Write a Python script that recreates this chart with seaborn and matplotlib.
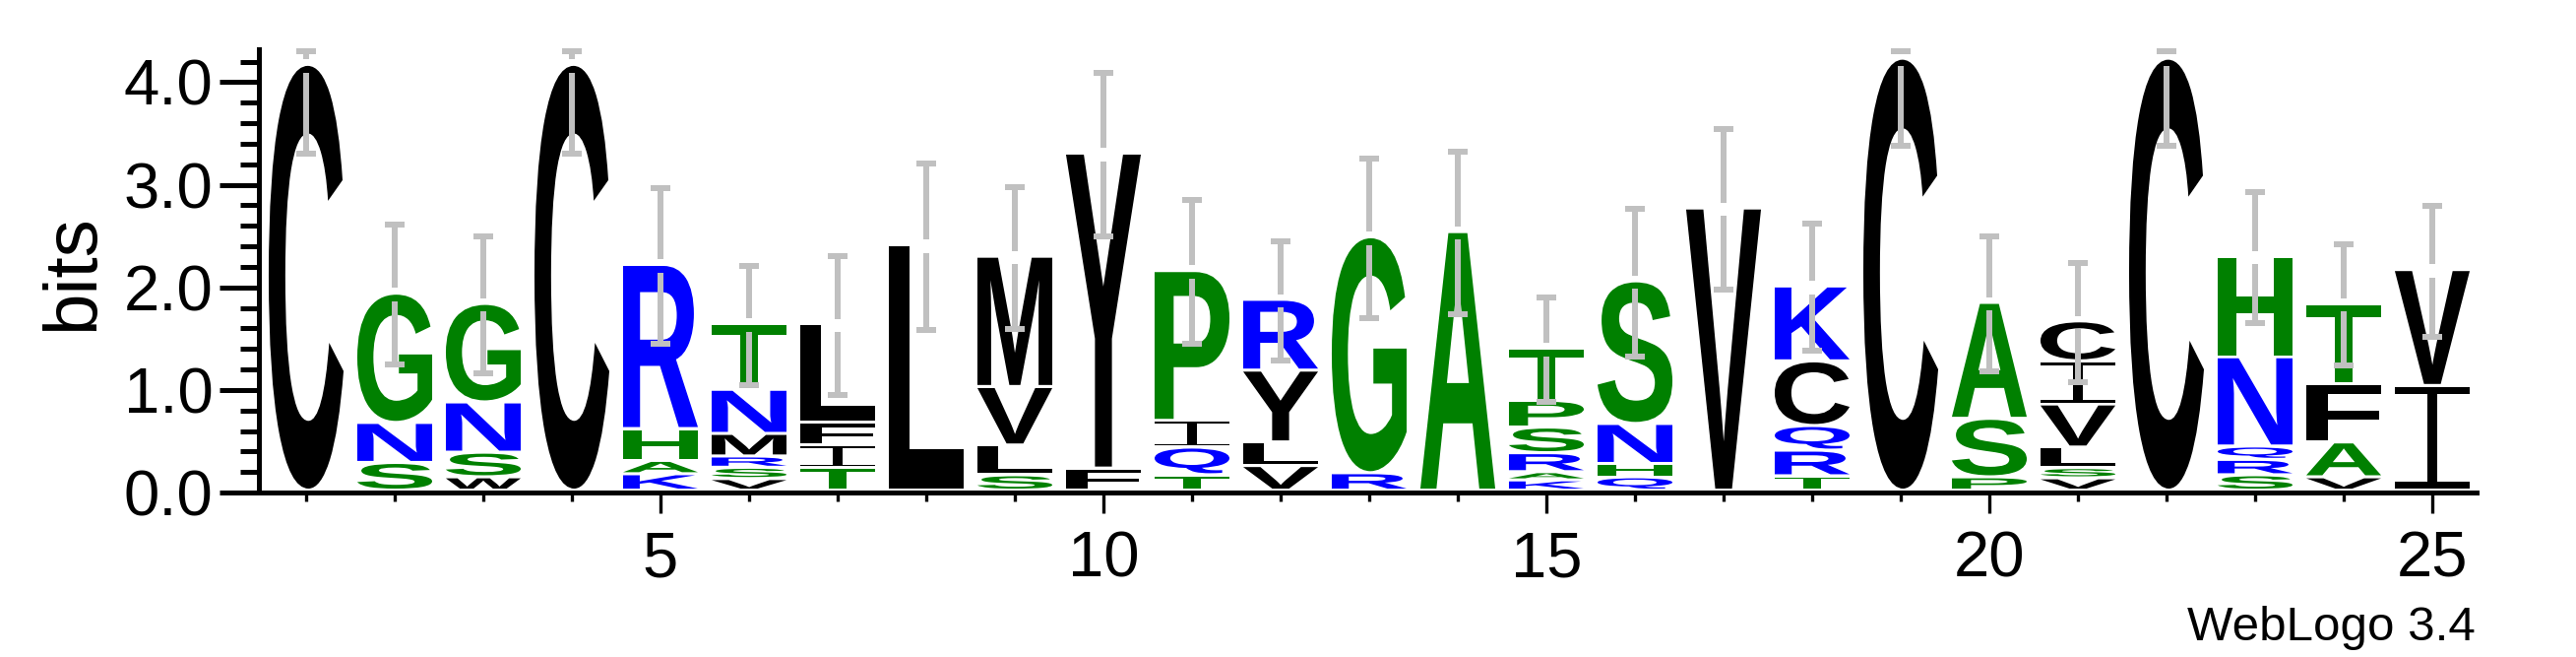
import matplotlib
matplotlib.use("Agg")
import matplotlib.pyplot as plt
import seaborn as sns
from matplotlib.textpath import TextPath
from matplotlib.font_manager import FontProperties
from matplotlib.patches import PathPatch
from matplotlib.path import Path
from matplotlib.transforms import Affine2D
from matplotlib.ticker import MultipleLocator, FixedLocator, FormatStrFormatter

# --- data (letters bottom -> top, heights in bits) ---
positions = list(range(1, 26))
stack_letters = [
    "C", "SNG", "WSNG", "C", "KAHR", "VSRMNT", "TIFL", "L", "SLVM", "FY",
    "TQIP", "VLYR", "RG", "A", "KARSPT", "QHNS", "V", "TRQCK", "C", "PSA",
    "VSLVIC", "C", "SRQNH", "VAFT", "IV",
]
stack_heights = [
    [4.12],
    [0.24, 0.39, 1.26],
    [0.10, 0.24, 0.49, 0.96],
    [4.12],
    [0.13, 0.13, 0.31, 1.60],
    [0.083, 0.11, 0.11, 0.22, 0.43, 0.64],
    [0.19, 0.22, 0.22, 0.96],
    [2.36],
    [0.12, 0.29, 0.57, 1.27],
    [0.185, 3.07],
    [0.12, 0.27, 0.26, 1.46],
    [0.21, 0.23, 0.70, 0.69],
    [0.14, 2.30],
    [2.49],
    [0.07, 0.08, 0.185, 0.25, 0.26, 0.51],
    [0.10, 0.13, 0.39, 1.39],
    [2.72],
    [0.11, 0.25, 0.24, 0.63, 0.73],
    [4.18],
    [0.10, 0.57, 1.13],
    [0.09, 0.10, 0.20, 0.42, 0.42, 0.39],
    [4.18],
    [0.12, 0.15, 0.13, 0.87, 0.98],
    [0.10, 0.34, 0.57, 0.78],
    [0.99, 1.13],
]
error_bars = [0.86, 0.68, 0.67, 0.86, 0.76, 0.58, 0.68, 0.81, 0.69, 0.80,
              0.70, 0.58, 0.78, 0.79, 0.51, 0.72, 0.78, 0.62, 0.84, 0.66,
              0.58, 0.84, 0.64, 0.59, 0.64]

x_ticks = [5, 10, 15, 20, 25]
max_bits = 4.32  # log2(20)

# hydrophobicity colour scheme
hydrophobic = "CLMYVFIW"
neutral = "GSTAHP"
hydrophilic = "NRKQDE"


def letter_color(ch):
    if ch in hydrophobic:
        return "black"
    if ch in neutral:
        return "#008000"
    return "#0000ff"


sns.set_style("ticks")
plt.rcParams["font.family"] = ["Liberation Sans", "DejaVu Sans"]
for key in ("text.color", "axes.labelcolor", "axes.edgecolor",
            "xtick.color", "ytick.color"):
    plt.rcParams[key] = "black"

GLYPH_FONT = FontProperties(family="Liberation Sans", weight="bold")
_glyphs = {}


def unit_glyph(ch):
    # glyph outline normalised to the unit square
    if ch not in _glyphs:
        if ch == "I":
            # WebLogo draws I with serifs
            t, s = 0.065, 0.06
            verts = [(0, 0), (1, 0), (1, t), (0.5 + s, t), (0.5 + s, 1 - t),
                     (1, 1 - t), (1, 1), (0, 1), (0, 1 - t), (0.5 - s, 1 - t),
                     (0.5 - s, t), (0, t), (0, 0)]
            codes = [Path.MOVETO] + [Path.LINETO] * 11 + [Path.CLOSEPOLY]
            _glyphs[ch] = Path(verts, codes)
        else:
            tp = TextPath((0, 0), ch, size=1, prop=GLYPH_FONT)
            bb = tp.get_extents()
            tr = Affine2D().translate(-bb.x0, -bb.y0).scale(1 / bb.width, 1 / bb.height)
            _glyphs[ch] = tr.transform_path(tp)
    return _glyphs[ch]


def draw_letter(ax, ch, x, y0, y1, width=0.845):
    tr = Affine2D().scale(width, y1 - y0).translate(x - width / 2, y0)
    path = tr.transform_path(unit_glyph(ch))
    ax.add_patch(PathPatch(path, facecolor=letter_color(ch), edgecolor="none",
                           lw=0, zorder=2))


fig = plt.figure(figsize=(26.17, 6.67), dpi=100)
ax = fig.add_axes([266 / 2617, 167 / 667, 2250 / 2617, 450 / 667])

base, gap = 0.038, 0.03
stack_tops = []
for x, letters, heights in zip(positions, stack_letters, stack_heights):
    y = base
    for i, (ch, h) in enumerate(zip(letters, heights)):
        draw_letter(ax, ch, x, y + (gap if i else 0), y + h)
        y += h
    stack_tops.append(y)

# error bars with a small break at the stack top
grey = "#c0c0c0"
half_gap, cap = 0.065, 0.115
for x, top, err in zip(positions, stack_tops, error_bars):
    lo, hi = top - err, min(top + err, 4.3)
    ax.vlines([x, x], [lo, top + half_gap], [top - half_gap, hi],
              color=grey, lw=4.3, zorder=3, clip_on=False)
    ax.hlines([lo, hi], x - cap, x + cap, color=grey, lw=4.3, zorder=3,
              clip_on=False)

ax.set_xlim(0.5, 25.5)
ax.set_ylim(0, max_bits)

ax.xaxis.set_major_locator(FixedLocator(x_ticks))
ax.xaxis.set_minor_locator(MultipleLocator(1))
ax.yaxis.set_major_locator(MultipleLocator(1))
ax.yaxis.set_minor_locator(MultipleLocator(0.2))
ax.yaxis.set_major_formatter(FormatStrFormatter("%.1f"))

ax.tick_params(axis="y", which="major", length=28.8, width=3.6, pad=5,
               labelsize=47, direction="out", colors="black")
ax.tick_params(axis="y", which="minor", length=13.7, width=3.6,
               direction="out", colors="black")
ax.tick_params(axis="x", which="major", length=15, width=2.4, pad=13,
               labelsize=47, direction="out", colors="black")
ax.tick_params(axis="x", which="minor", length=6.5, width=2.4,
               direction="out", colors="black")

sns.despine(ax=ax)
for side in ("left", "bottom"):
    ax.spines[side].set_linewidth(3.6)
    ax.spines[side].set_color("black")
ax.spines["left"].set_position(("outward", 2))

fig.text(75 / 2617, 1 - 277 / 667, "bits", rotation=90, ha="center",
         va="center", fontsize=55, color="black")
fig.text(2515 / 2617, 1 - 650 / 667, "WebLogo 3.4", ha="right",
         va="baseline", fontsize=35.5, color="black")

fig.savefig("out.png", dpi=100)
